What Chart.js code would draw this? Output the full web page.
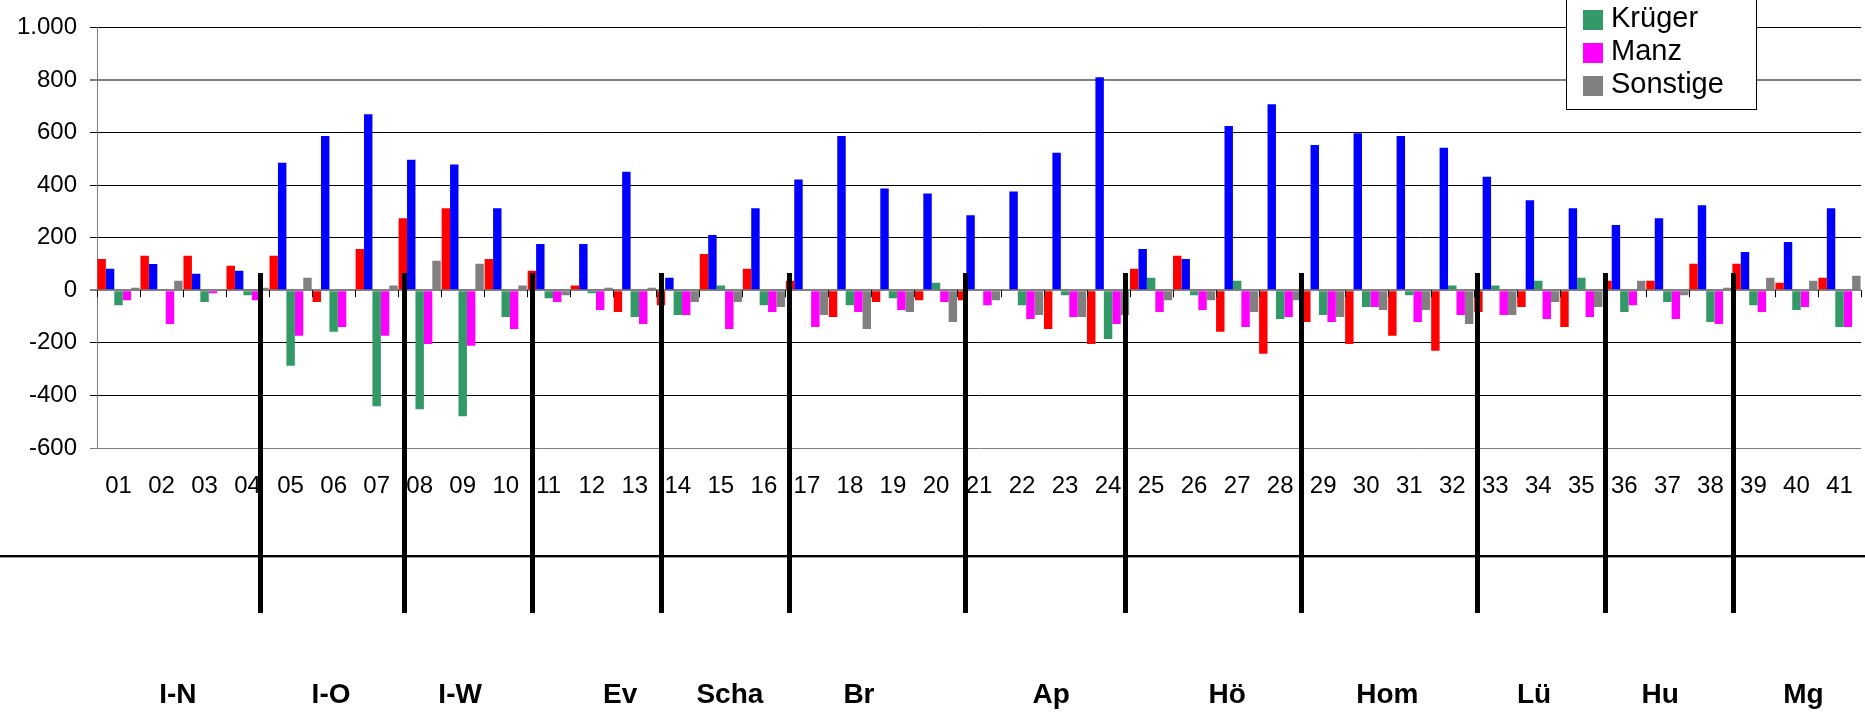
<!DOCTYPE html>
<html>
<head>
<meta charset="utf-8">
<script src="https://cdn.jsdelivr.net/npm/chart.js@4/dist/chart.umd.min.js"></script>
<style>
  html, body { margin: 0; padding: 0; background: #fff; }
  #wrap { position: relative; width: 1865px; height: 713px; }
</style>
</head>
<body>
<div id="wrap"><canvas id="c" width="1865" height="713"></canvas></div>
<script>
// ---- data ----
const categories = ['01','02','03','04','05','06','07','08','09','10','11','12','13','14','15','16','17','18','19','20','21','22','23','24','25','26','27','28','29','30','31','32','33','34','35','36','37','38','39','40','41'];
const seriesNames = ['Serie 1', 'Serie 2', 'Krüger', 'Manz', 'Sonstige'];
const rot = [119,131,131,93,131,-45,157,274,312,119,74,18,-83,-57,138,82,36,-102,-45,-38,-38,0,-147,-204,82,131,-158,-241,-121,-204,-173,-230,-83,-64,-140,36,36,101,101,29,48];
const blau = [82,100,63,74,485,587,670,497,478,312,176,176,451,48,210,312,421,587,387,368,285,376,523,810,157,119,625,708,553,597,587,542,432,342,312,248,274,323,146,184,312];
const krueger = [-57,0,-45,-19,-287,-158,-441,-453,-479,-102,-30,-11,-102,-94,18,-57,0,-57,-30,29,0,-57,-19,-185,48,-19,36,-109,-94,-64,-19,18,18,36,48,-83,-45,-121,-57,-75,-140];
const manz = [-38,-128,-11,-38,-173,-140,-173,-204,-211,-147,-45,-75,-128,-94,-147,-83,-140,-83,-75,-45,-57,-109,-102,-128,-83,-75,-140,-102,-121,-64,-121,-94,-94,-109,-102,-57,-109,-128,-83,-64,-140];
const sonstige = [10,36,0,10,48,0,18,112,101,18,-19,10,10,-45,-45,-64,-94,-147,-83,-121,-38,-94,-102,-94,-38,-38,-83,-38,-102,-75,-75,-128,-94,-45,-64,36,-19,10,48,36,55];
const yTickValues = [-600,-400,-200,0,200,400,600,800,1000];
const groupLabels = ['I-N','I-O','I-W','Ev','Scha','Br','Ap','Hö','Hom','Lü','Hu','Mg'];
// label positions and separator positions, in category-index units
const groupLabelPos = [1.38,4.94,7.94,11.66,14.21,17.21,21.68,25.77,29.49,32.90,35.83,39.16];
const separatorPos = [3.31,6.65,9.63,12.61,15.59,19.68,23.40,27.49,31.58,34.55,37.53];

const colors = ['#FF0000','#0000FF','#339966','#FF00FF','#808080'];
const FONT = "'Liberation Sans', Arial, sans-serif";

const overlay = {
  id: 'overlay',
  afterDatasetsDraw(chart) {
    const { ctx, scales: { x, y } } = chart;
    ctx.save();
    // small tick marks at category boundaries on the zero line
    const y0 = y.getPixelForValue(0);
    ctx.strokeStyle = '#000';
    ctx.lineWidth = 1;
    for (let i = 0; i <= categories.length; i++) {
      const px = Math.round(x.getPixelForValue(i - 0.5)) + 0.5;
      ctx.beginPath(); ctx.moveTo(px, y0); ctx.lineTo(px, y0 + 7); ctx.stroke();
    }
    // horizontal rule below the tick labels
    ctx.fillStyle = '#000';
    ctx.fillRect(0, 555, chart.width, 2);
    ctx.fillStyle = '#999';
    ctx.fillRect(0, 557, chart.width, 1);
    // group separators
    ctx.fillStyle = '#000';
    const topY = y.getPixelForValue(65);
    separatorPos.forEach(p => {
      const px = x.getPixelForValue(p);
      ctx.fillRect(Math.round(px - 2.5), Math.round(topY), 5, 613 - Math.round(topY));
    });
    // group labels
    ctx.font = 'bold 28px ' + FONT;
    ctx.textAlign = 'center';
    ctx.textBaseline = 'alphabetic';
    groupLabels.forEach((t, i) => {
      ctx.fillText(t, x.getPixelForValue(groupLabelPos[i]), 703);
    });
    // legend (partly above the canvas)
    ctx.fillStyle = '#fff';
    ctx.fillRect(1566, -80, 190, 189);
    ctx.strokeStyle = '#000';
    ctx.lineWidth = 1;
    ctx.strokeRect(1566.5, -80, 190, 189.5);
    ctx.font = '29px ' + FONT;
    ctx.textAlign = 'left';
    chart.data.datasets.forEach((ds, i) => {
      const sc = 19.5 + (i - 2) * 33;
      ctx.fillStyle = ds.backgroundColor;
      ctx.fillRect(1583, Math.round(sc - 10), 20, 20);
      ctx.fillStyle = '#000';
      ctx.fillText(ds.label, 1611, sc + 7);
    });
    ctx.restore();
  }
};

const seriesData = [rot, blau, krueger, manz, sonstige];

new Chart(document.getElementById('c'), {
  type: 'bar',
  data: {
    labels: categories,
    datasets: seriesData.map((d, i) => ({
      label: seriesNames[i],
      data: d,
      backgroundColor: colors[i],
      borderWidth: 0,
      categoryPercentage: 0.98,
      barPercentage: 1.0
    }))
  },
  options: {
    responsive: false,
    animation: false,
    devicePixelRatio: 1,
    layout: { padding: { top: 24, right: 4, left: 0, bottom: 0 } },
    plugins: { legend: { display: false }, tooltip: { enabled: false } },
    scales: {
      x: {
        grid: { display: false },
        border: { display: false },
        ticks: {
          color: '#000',
          font: { family: FONT, size: 24 },
          autoSkip: false,
          maxRotation: 0,
          padding: 16
        },
        afterFit(scale) { scale.height = 265; scale.paddingLeft = 0; scale.paddingRight = 0; }
      },
      y: {
        min: -600,
        max: 1000,
        afterBuildTicks(scale) { scale.ticks = yTickValues.map(v => ({ value: v })); },
        grid: {
          color: ctx => (ctx.tick && (ctx.tick.value === 800 || ctx.tick.value === 0 || ctx.tick.value === -600)) ? '#808080' : '#000',
          lineWidth: ctx => (ctx.tick && (ctx.tick.value === 800 || ctx.tick.value === 0)) ? 2 : 1,
          tickLength: 7
        },
        border: { display: true, color: '#808080', width: 1 },
        ticks: {
          color: '#000',
          font: { family: FONT, size: 24 },
          padding: 13,
          callback: v => String(v).replace(/\B(?=(\d{3})+(?!\d))/g, '.')
        },
        afterFit(scale) { scale.width = 97; }
      }
    }
  },
  plugins: [overlay]
});
</script>
</body>
</html>
